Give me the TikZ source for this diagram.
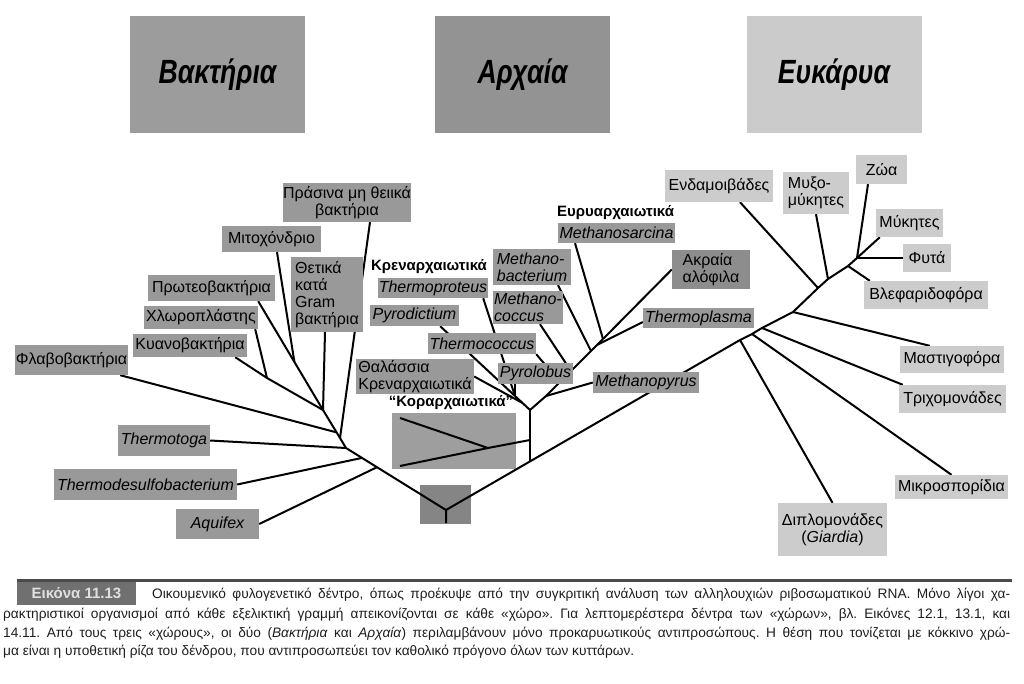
\documentclass[tikz,border=0pt]{standalone}
\usepackage{fontspec}
\setmainfont{Liberation Sans}
\usetikzlibrary{calc}
\pgfdeclarelayer{bottom}
\pgfdeclarelayer{background}
\pgfsetlayers{bottom,background,main}
\definecolor{bgray}{HTML}{999999}
\definecolor{egray}{HTML}{CCCCCC}
\definecolor{rgray}{HTML}{858585}
\definecolor{kgray}{HTML}{9E9E9E}
\definecolor{hbac}{HTML}{9C9C9C}
\definecolor{harc}{HTML}{939393}
\definecolor{heuk}{HTML}{CBCBCB}
\definecolor{capgray}{HTML}{707070}
\definecolor{rulegray}{HTML}{4A4A4A}
\definecolor{captext}{HTML}{1E1E1E}
\begin{document}
\frenchspacing
\begin{tikzpicture}[x=1pt,y=-1pt,
  lab/.style={fill=bgray, inner sep=0pt, text=black, font=\fontsize{16}{17}\selectfont},
  ilab/.style={lab, font=\fontsize{16}{17}\selectfont\itshape},
  elab/.style={lab, fill=egray},
  grp/.style={inner sep=0pt, font=\bfseries\fontsize{15}{17}\selectfont},
  hdr/.style={inner sep=0pt, font=\bfseries\itshape\fontsize{28}{30}\selectfont, minimum width=175pt, minimum height=117pt},
  conn/.style={line width=2pt, black, line join=round},
  capline/.style={inner sep=0pt, anchor=base west, text=captext, font=\fontsize{13.7}{15}\selectfont}
]
\begin{pgfonlayer}{bottom}
\fill[white] (0,0) rectangle (1024,684);
\end{pgfonlayer}
\useasboundingbox (0,0) rectangle (1024,684);

% headers
\node[hdr, fill=hbac] (hbacn) at (217.5,74.5) {\scalebox{0.95}[1.2]{Βακτήρια}};
\node[hdr, fill=harc] (harcn) at (522.5,74.5) {\scalebox{0.95}[1.2]{Αρχαία}};
\node[hdr, fill=heuk] (heukn) at (834,74.5) {\scalebox{0.95}[1.2]{Ευκάρυα}};

% bacteria labels
\node[lab, minimum width=116pt, minimum height=39pt, align=center] (prasina) at (347,202.5) {Πράσινα μη θειικά\\βακτήρια};
\node[lab, minimum width=99pt, minimum height=26pt] (mito) at (271.5,239) {Μιτοχόνδριο};
\node[lab, minimum width=72pt, minimum height=75pt, align=left] (thetika) at (327,294.5) {Θετικά\\κατά\\Gram\\βακτήρια};
\node[lab, minimum width=127pt, minimum height=26pt] (proteo) at (211.5,288) {Πρωτεοβακτήρια};
\node[lab, minimum width=114pt, minimum height=23pt] (chloro) at (201,317.5) {Χλωροπλάστης};
\node[lab, minimum width=114pt, minimum height=23pt] (kyano) at (190,345.5) {Κυανοβακτήρια};
\node[lab, minimum width=113pt, minimum height=30pt] (flavo) at (71.5,360) {Φλαβοβακτήρια};
\node[ilab, minimum width=92pt, minimum height=31pt] (thermotoga) at (164,440.5) {Thermotoga};
\node[ilab, minimum width=183pt, minimum height=31pt] (thermodes) at (145.5,484.5) {Thermodesulfobacterium};
\node[ilab, minimum width=83pt, minimum height=30pt] (aquifex) at (217.5,524) {Aquifex};

% archaea labels
\node[grp] (eury) at (615.5,213) {Ευρυαρχαιωτικά};
\node[grp] (kren) at (429,267) {Κρεναρχαιωτικά};
\node[grp] (korl) at (451,403) {“Κοραρχαιωτικά”};
\node[ilab, minimum width=117pt, minimum height=20pt] (msarc) at (616.5,233) {Methanosarcina};
\node[ilab, minimum width=78pt, minimum height=36pt, align=left] (mbact) at (532,267) {Methano-\\bacterium};
\node[ilab, minimum width=110pt, minimum height=20pt] (tprot) at (433,288) {Thermoproteus};
\node[ilab, minimum width=70pt, minimum height=33pt, align=left] (mcocc) at (528,307.5) {Methano-\\coccus};
\node[lab, minimum width=78pt, minimum height=39pt, align=left, fill=bgray!92!black] (akraia) at (711,269.5) {Ακραία\\αλόφιλα};
\node[ilab, minimum width=111pt, minimum height=20pt] (tplasma) at (698.5,318) {Thermoplasma};
\node[ilab, minimum width=89pt, minimum height=21pt] (pyrod) at (414.5,315.5) {Pyrodictium};
\node[ilab, minimum width=108pt, minimum height=21pt] (tcocc) at (482,343.5) {Thermococcus};
\node[lab, minimum width=118pt, minimum height=35pt, align=left] (thal) at (415,376.5) {Θαλάσσια\\Κρεναρχαιωτικά};
\node[ilab, minimum width=75pt, minimum height=21pt] (pyrol) at (535.5,373.5) {Pyrolobus};
\node[ilab, minimum width=106pt, minimum height=21pt] (mpyr) at (646,382.5) {Methanopyrus};

% eukarya labels
\node[elab, minimum width=108pt, minimum height=32pt] (endam) at (719,186) {Ενδαμοιβάδες};
\node[elab, minimum width=66pt, minimum height=42pt, align=left] (myxo) at (816,193) {Μυξο-\\μύκητες};
\node[elab, minimum width=51pt, minimum height=29pt] (zoa) at (881.5,169.5) {Ζώα};
\node[elab, minimum width=67pt, minimum height=28pt] (myk) at (909.5,223) {Μύκητες};
\node[elab, minimum width=48pt, minimum height=28pt] (fyta) at (927,258) {Φυτά};
\node[elab, minimum width=124pt, minimum height=28pt] (vlef) at (926,295) {Βλεφαριδοφόρα};
\node[elab, minimum width=104pt, minimum height=27pt] (mast) at (952,359.5) {Μαστιγοφόρα};
\node[elab, minimum width=107pt, minimum height=28pt] (trich) at (952.5,399) {Τριχομονάδες};
\node[elab, minimum width=113pt, minimum height=24pt] (mikro) at (951.5,487) {Μικροσπορίδια};
\node[elab, minimum width=109pt, minimum height=53pt, align=center] (diplo) at (832.5,529.5) {Διπλομονάδες\\(\textit{Giardia})};

% junctions
\coordinate (R) at (446,510);
\coordinate (R0) at (446,523);
\coordinate (D) at (346,448);
\coordinate (C) at (340,438);
\coordinate (B) at (323,410);
\coordinate (A) at (267,378);
\coordinate (M) at (294.4,362);
\coordinate (E) at (362,457.9);
\coordinate (F) at (377,467.2);
\coordinate (Fl) at ($(B)!0.8!(C)$);
\coordinate (G) at (530,461.4);
\coordinate (KJ) at (530,440);
\coordinate (H) at (530,410);
\coordinate (KA) at (488,448);
\coordinate (K1) at (400,418);
\coordinate (K2) at (400,466);
\coordinate (K) at (515,396);
\coordinate (L) at ($(K)!0.5!(H)$);
\coordinate (P) at (546,396);
\coordinate (Tc) at (560,382);
\coordinate (Mc) at (571,371);
\coordinate (T) at (591,351);
\coordinate (U) at (597,345);
\coordinate (S) at (603,339);
\coordinate (E1) at (740,340);
\coordinate (E2) at (752,334);
\coordinate (E3) at (762,328);
\coordinate (E4) at (793,312);
\coordinate (E5) at (818,288);
\coordinate (E6) at (828,279);
\coordinate (E7) at (848,266);
\coordinate (E8) at (857,258);

\begin{pgfonlayer}{background}
\node[fill=rgray, minimum width=51pt, minimum height=39pt, inner sep=0pt] (root) at (445.5,504.5) {};
\node[fill=kgray, minimum width=124pt, minimum height=56pt, inner sep=0pt] (korbox) at (454,441) {};
% main line
\draw[conn] (R0) -- (R) -- (G) -- (E1) -- (E2) -- (E3) -- (E4) -- (E5) -- (E6) -- (E7) -- (E8);
% bacteria
\draw[conn] (R) -- (D) -- (C) -- (B) -- (A);
\draw[conn] ([xshift=23pt]prasina.south) -- (C);
\draw[conn] ([xshift=5.5pt]mito.south) -- (M);
\draw[conn] ([xshift=-17pt]proteo.south east) -- (B);
\draw[conn] ([xshift=-2pt]thetika.south) -- (B);
\draw[conn] ([xshift=-3pt]chloro.south east) -- (A);
\draw[conn] ([xshift=-12pt]kyano.south east) -- (A);
\draw[conn] ([xshift=-8pt]flavo.south east) -- (Fl);
\draw[conn] (thermotoga.east) -- (D);
\draw[conn] (thermodes.east) -- (E);
\draw[conn] (aquifex.east) -- (F);
% archaea
\draw[conn] (G) -- (KJ) -- (H);
\draw[conn] (K1) -- (KA) -- (K2);
\draw[conn] (KA) -- (KJ);
\draw[conn] (K) -- (H) -- (P) -- (Tc) -- (Mc) -- (T) -- (U) -- (S);
\draw[conn] ([xshift=-5pt]tprot.south east) -- (K);
\draw[conn] ([xshift=-19pt]pyrod.south east) -- (K);
\draw[conn] ([xshift=-20.5pt]pyrol.south) -- (K);
\draw[conn] (thal.east) -- (L);
\draw[conn] (mpyr.west) -- (P);
\draw[conn] (tcocc.south east) -- (Tc);
\draw[conn] ([xshift=12pt]mcocc.south) -- (Mc);
\draw[conn] ([xshift=26pt]mbact.south) -- (T);
\draw[conn] ([yshift=-4pt]tplasma.west) -- (U);
\draw[conn] ([xshift=-41.5pt]msarc.south) -- (S);
\draw[conn] (akraia.west) -- (S);
% eukarya
\draw[conn] ([xshift=21pt]endam.south) -- (E5);
\draw[conn] (myxo.south) -- (E6);
\draw[conn] ([xshift=-13.5pt]zoa.south) -- (E8);
\draw[conn] ([xshift=4pt]myk.south west) -- (E8);
\draw[conn] (fyta.west) -- (E8);
\draw[conn] ([xshift=6pt]vlef.north west) -- (E7);
\draw[conn] ([xshift=30pt]mast.north west) -- (E4);
\draw[conn] ([xshift=4pt]trich.north west) -- (E3);
\draw[conn] (mikro.north) -- (E2);
\draw[conn] (diplo.north) -- (E1);
\end{pgfonlayer}

% caption
\coordinate (rl) at (17,580);
\coordinate (rr) at (1012,580);
\draw[line width=3pt, rulegray] (rl) -- (rr);
\node[fill=capgray, text=white!88!black, inner sep=0pt, minimum width=119pt, minimum height=23pt, font=\bfseries\fontsize{15}{17}\selectfont] (fig) at (76.5,593.5) {Εικόνα 11.13};
\node[capline] (c1) at (152,598) {\makebox[858pt][s]{Οικουμενικό φυλογενετικό δέντρο, όπως προέκυψε από την συγκριτική ανάλυση των αλληλουχιών ριβοσωματικού RNA. Μόνο λίγοι χα-}};
\node[capline] (c2) at (3,618) {\makebox[1007pt][s]{ρακτηριστικοί οργανισμοί από κάθε εξελικτική γραμμή απεικονίζονται σε κάθε «χώρο». Για λεπτομερέστερα δέντρα των «χώρων», βλ. Εικόνες 12.1, 13.1, και}};
\node[capline] (c3) at (3,637) {\makebox[1007pt][s]{14.11. Από τους τρεις «χώρους», οι δύο (\textit{Βακτήρια} και \textit{Αρχαία}) περιλαμβάνουν μόνο προκαρυωτικούς αντιπροσώπους. Η θέση που τονίζεται με κόκκινο χρώ-}};
\node[capline] (c4) at (3,655) {μα είναι η υποθετική ρίζα του δένδρου, που αντιπροσωπεύει τον καθολικό πρόγονο όλων των κυττάρων.};
\end{tikzpicture}
\end{document}
